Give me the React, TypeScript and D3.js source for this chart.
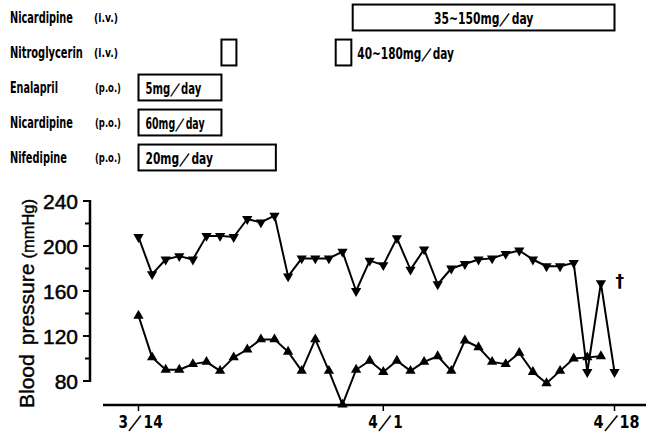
import React, { useEffect, useRef } from 'react';
import * as d3 from 'd3';

// day index: 0 = 3/14, 18 = 4/1, 35 = 4/18
const systolic = [208, 175, 188, 191, 188, 209, 209, 208, 224, 221, 227, 173, 189, 189, 189, 195, 160, 187, 183, 207, 179, 197, 166, 180, 184, 188, 189, 193, 196, 188, 182, 182, 185, 88, 167, 88];
const diastolic = [138, 101, 90, 90, 95, 97, 89, 101, 108, 117, 117, 106, 89, 117, 89, 59, 90, 98, 88, 98, 89, 97, 102, 89, 116, 110, 97, 95, 105, 88, 78, 89, 100, 101, 102, null];

const dateTicks = [0, 18, 35];
const dateLabels = ['3／14', '4／1', '4／18'];
const bpMajorTicks = [80, 120, 160, 200, 240];
const bpMinorTicks = [100, 140, 180, 220];

const drugNames = ['Nicardipine', 'Nitroglycerin', 'Enalapril', 'Nicardipine', 'Nifedipine'];
const drugRoutes = ['(i.v.)', '(i.v.)', '(p.o.)', '(p.o.)', '(p.o.)'];
// from / to in days after 3/14
const doseBlocks = [
  { row: 0, from: 15.75, to: 35, dose: '35~150mg／day', inside: 'center' },
  { row: 1, from: 6.1, to: 7.2, dose: '', inside: 'none' },
  { row: 1, from: 14.5, to: 15.65, dose: '40~180mg／day', inside: 'after' },
  { row: 2, from: 0, to: 6.1, dose: '5mg／day', inside: 'left' },
  { row: 3, from: 0, to: 6.1, dose: '60mg／day', inside: 'left' },
  { row: 4, from: 0, to: 10.1, dose: '20mg／day', inside: 'left' },
];

const gothic = "'DejaVu Sans Condensed', 'DejaVu Sans', sans-serif";
const sans = 'Liberation Sans, Arial, sans-serif';

// squeeze a text horizontally so it takes the given width
const fitText = (
  svg: d3.Selection<SVGSVGElement, unknown, null, undefined>,
  str: string, tx: number, ty: number, width: number, size: number, anchor = 'start',
) => {
  const g = svg.append('g');
  const t = g.append('text')
    .attr('font-family', gothic).attr('font-weight', 'bold')
    .attr('font-size', size)
    .text(str);
  const natural = (t.node() as SVGTextElement).getComputedTextLength() || width;
  const sx = width / natural;
  let x0 = tx;
  if (anchor === 'middle') x0 = tx - width / 2;
  if (anchor === 'end') x0 = tx - width;
  g.attr('transform', `translate(${x0},${ty}) scale(${sx},1)`);
  return t;
};

const App = () => {
  const svgRef = useRef<SVGSVGElement | null>(null);

  useEffect(() => {
    if (!svgRef.current) return;
    const svg = d3.select(svgRef.current);
    svg.selectAll('*').remove();

    const x = d3.scaleLinear().domain([0, 35]).range([138.5, 614.5]);
    const y = d3.scaleLinear().domain([80, 240]).range([381, 201]);
    const rows = d3.scaleBand<number>()
      .domain(d3.range(drugNames.length))
      .range([0, 175])
      .paddingInner(0.26)
      .paddingOuter(0.13);

    // drug labels
    const labelWidths = [63, 73, 48, 63, 57];
    const routeWidths = [24, 24, 26, 26, 26];
    drugNames.forEach((name, i) => {
      const base = (rows(i) as number) + rows.bandwidth() / 2 + 5;
      fitText(svg, name, 10, base, labelWidths[i], 15);
      fitText(svg, drugRoutes[i], i < 2 ? 94 : 95, base - 0.5, routeWidths[i], 12);
    });

    // dose boxes
    const doseWidths: Record<string, number> = {
      '35~150mg／day': 99, '40~180mg／day': 97, '5mg／day': 56, '60mg／day': 59, '20mg／day': 67,
    };
    doseBlocks.forEach(b => {
      const top = rows(b.row) as number;
      const x0 = x(b.from), x1 = x(b.to);
      svg.append('rect')
        .attr('x', x0).attr('y', top)
        .attr('width', x1 - x0).attr('height', rows.bandwidth())
        .attr('fill', 'none').attr('stroke', '#000').attr('stroke-width', 2);
      if (!b.dose) return;
      let tx = x0 + 7;
      let anchor = 'start';
      if (b.inside === 'center') { tx = (x0 + x1) / 2; anchor = 'middle'; }
      if (b.inside === 'after') tx = x1 + 6;
      fitText(svg, b.dose, tx, top + rows.bandwidth() / 2 + 6, doseWidths[b.dose], 15, anchor);
    });

    // y axis
    const axisX = 90;
    svg.append('line')
      .attr('x1', axisX).attr('x2', axisX)
      .attr('y1', y(240) - 1).attr('y2', y(80) + 1)
      .attr('stroke', '#000').attr('stroke-width', 2.5);
    bpMajorTicks.forEach(v => {
      svg.append('line')
        .attr('x1', axisX - 7).attr('x2', axisX)
        .attr('y1', y(v)).attr('y2', y(v))
        .attr('stroke', '#000').attr('stroke-width', 2);
      svg.append('text')
        .attr('x', 78).attr('y', y(v) + 7.5)
        .attr('text-anchor', 'end')
        .attr('font-family', sans)
        .attr('font-size', 21)
        .attr('stroke', '#000').attr('stroke-width', 0.5)
        .text(v);
    });
    bpMinorTicks.forEach(v => {
      svg.append('line')
        .attr('x1', axisX - 5).attr('x2', axisX)
        .attr('y1', y(v)).attr('y2', y(v))
        .attr('stroke', '#000').attr('stroke-width', 2);
    });

    // y title, reading bottom to top
    const title = svg.append('text')
      .attr('transform', 'translate(34,408) rotate(-90)')
      .attr('font-family', sans)
      .attr('font-size', 21)
      .attr('stroke', '#000').attr('stroke-width', 0.4);
    title.append('tspan').text('Blood');
    title.append('tspan').attr('dx', 9).text('pressure');
    title.append('tspan').attr('dx', 5).attr('font-size', 16.5).text('(mmHg)');

    // x axis
    const axisY = 405;
    svg.append('line')
      .attr('x1', 103).attr('x2', 646)
      .attr('y1', axisY).attr('y2', axisY)
      .attr('stroke', '#000').attr('stroke-width', 2.5);
    dateTicks.forEach((d, i) => {
      svg.append('line')
        .attr('x1', x(d)).attr('x2', x(d))
        .attr('y1', axisY).attr('y2', axisY + 6)
        .attr('stroke', '#000').attr('stroke-width', 1.5);
      fitText(svg, dateLabels[i], x(d) + 2, 428, [44, 34, 46][i], 18, 'middle');
    });

    // lines
    const line = d3.line<number | null>()
      .defined(v => v != null)
      .x((_, i) => x(i))
      .y(v => y(v as number));

    [systolic, diastolic].forEach(series => {
      svg.append('path')
        .datum(series)
        .attr('fill', 'none')
        .attr('stroke', '#000')
        .attr('stroke-width', 2)
        .attr('stroke-linejoin', 'round')
        .attr('d', line);
    });

    const tri = d3.symbol().type(d3.symbolTriangle).size(46);
    systolic.forEach((v, i) => {
      svg.append('path')
        .attr('d', tri)
        .attr('transform', `translate(${x(i)},${y(v)}) rotate(180)`)
        .attr('fill', '#000');
    });
    diastolic.forEach((v, i) => {
      if (v == null) return;
      svg.append('path')
        .attr('d', tri)
        .attr('transform', `translate(${x(i)},${y(v)})`)
        .attr('fill', '#000');
    });

    // death mark
    svg.append('text')
      .attr('x', x(35) + 1).attr('y', y(167) + 4)
      .attr('font-family', 'DejaVu Sans, sans-serif')
      .attr('font-weight', 'bold')
      .attr('font-size', 17)
      .text('†');
  }, []);

  return (
    <svg
      ref={svgRef}
      width={646}
      height={441}
      style={{ position: 'absolute', left: 0, top: 0, background: '#fff' }}
    />
  );
};

export default App;
